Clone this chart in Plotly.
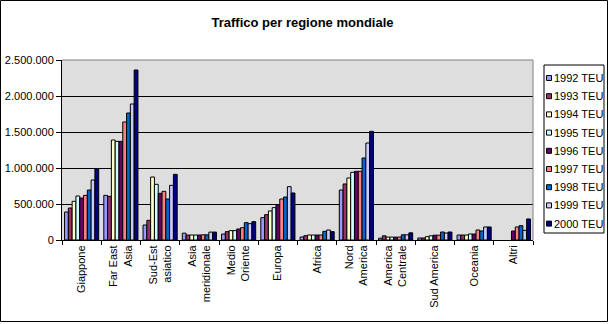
import plotly.graph_objects as go

categories = ["Giappone", "Far East<br>Asia", "Sud-Est<br>asiatico", "Asia<br>meridionale",
              "Medio<br>Oriente", "Europa", "Africa", "Nord<br>America",
              "America<br>Centrale", "Sud America", "Oceania", "Altri"]
series_names = ["1992 TEU", "1993 TEU", "1994 TEU", "1995 TEU", "1996 TEU",
                "1997 TEU", "1998 TEU", "1999 TEU", "2000 TEU"]
colors = ["#9999FF", "#993366", "#FFFFCC", "#CCFFFF", "#660066",
          "#FF8080", "#0066CC", "#CCCCFF", "#000080"]

teu_1992 = [389000, 620000, 208000, 95000, 83000, 310000, 42000, 694000, 25000, 28000, 69000, None]
teu_1993 = [444000, 606000, 273000, 69000, 116000, 352000, 60000, 778000, 58000, 28000, 69000, None]
teu_1994 = [537000, 1389000, 875000, 69000, 130000, 403000, 69000, 861000, 40000, 46000, 69000, None]
teu_1995 = [611000, 1370000, 773000, 69000, 130000, 449000, 69000, 940000, 40000, 58000, 83000, None]
teu_1996 = [583000, 1370000, 648000, 69000, 153000, 491000, 69000, 954000, 40000, 67000, 83000, 125000]
teu_1997 = [620000, 1639000, 676000, 72000, 171000, 569000, 69000, 954000, 40000, 67000, 139000, 181000]
teu_1998 = [694000, 1764000, 569000, 72000, 241000, 597000, 120000, 1139000, 72000, 111000, 125000, 199000]
teu_1999 = [833000, 1889000, 759000, 110000, 227000, 741000, 139000, 1347000, 72000, 97000, 181000, 134000]
teu_2000 = [991000, 2361000, 912000, 110000, 255000, 653000, 116000, 1509000, 100000, 111000, 181000, 292000]

series_values = [teu_1992, teu_1993, teu_1994, teu_1995, teu_1996,
                 teu_1997, teu_1998, teu_1999, teu_2000]

FONT = "Liberation Sans, Arial, sans-serif"
W, H = 610, 324
PL, PR, PT, PB = 62, 533, 60, 240  # plot area in pixels


def xp(px):
    return (px - PL) / (PR - PL)


def yp(py):
    return (PB - py) / (PB - PT)


fig = go.Figure()
for name, vals, col in zip(series_names, series_values, colors):
    fig.add_trace(go.Bar(x=categories, y=vals, name=name,
                         marker=dict(color=col, line=dict(color="black", width=1))))

shapes = []
annotations = []
# plot area border (top & right)
shapes.append(dict(type="path", xref="paper", yref="paper",
                   path="M 0 1 L 1 1 L 1 0", line=dict(color="#808080", width=1)))
# outer chart border
shapes.append(dict(type="rect", xref="paper", yref="paper",
                   x0=xp(0.5), x1=xp(607.5), y0=yp(0.5), y1=yp(321.5),
                   line=dict(color="black", width=1)))
# legend box
shapes.append(dict(type="rect", xref="paper", yref="paper",
                   x0=xp(544), x1=xp(604), y0=yp(65), y1=yp(233),
                   line=dict(color="black", width=1), fillcolor="white", layer="below"))
for i, (name, col) in enumerate(zip(series_names, colors)):
    cy = 78 + i * 18.2
    shapes.append(dict(type="rect", xref="paper", yref="paper",
                       x0=xp(546.5), x1=xp(551.5), y0=yp(cy + 2.5), y1=yp(cy - 2.5),
                       fillcolor=col, line=dict(color="black", width=1)))
    annotations.append(dict(xref="paper", yref="paper", x=xp(552.5), y=yp(cy),
                            xanchor="left", yanchor="middle", text=name, showarrow=False,
                            borderpad=0,
                            font=dict(family=FONT, size=11, color="black")))

fig.update_layout(
    template="none",
    width=W, height=H,
    margin=dict(l=PL, r=W - PR, t=PT, b=H - PB, pad=0),
    paper_bgcolor="white",
    plot_bgcolor="#DEDEDE",
    separators=",.",
    showlegend=False,
    barmode="group",
    bargap=0.13,
    bargroupgap=0,
    font=dict(family=FONT, size=11, color="black"),
    title=dict(text="<b>Traffico per regione mondiale</b>", x=302.5 / W, y=1 - 22.5 / H,
               xanchor="center", yanchor="middle", xref="container", yref="container",
               font=dict(family=FONT, size=13, color="black")),
    xaxis=dict(type="category", tickson="boundaries", ticks="outside", ticklen=4,
               tickcolor="black", tickwidth=1, showline=True, linecolor="black", linewidth=1,
               showgrid=False, tickangle=-90, automargin=False,
               tickfont=dict(family=FONT, size=11, color="black")),
    yaxis=dict(range=[0, 2500000], dtick=500000, tickformat=",d", ticks="outside", ticklen=5,
               tickcolor="black", tickwidth=1, showline=True, linecolor="black", linewidth=1,
               showgrid=True, gridcolor="black", gridwidth=1, zeroline=False, automargin=False,
               tickfont=dict(family=FONT, size=11, color="black")),
    shapes=shapes,
    annotations=annotations,
)

fig.write_html("out.html", config={"displayModeBar": False})
